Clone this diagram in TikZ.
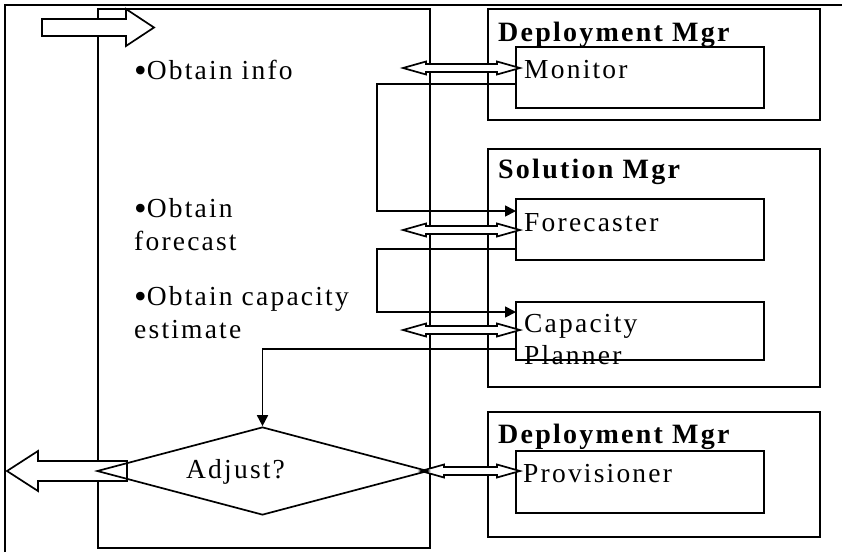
\documentclass[tikz,border=0pt]{standalone}
\usepackage{fontspec}
\setmainfont{Liberation Serif}[LetterSpace=8]
\usetikzlibrary{arrows.meta,shapes.geometric,calc}

% a larger bullet, lowered to sit on the x-height
\newcommand\bigbul{\raisebox{-3.5pt}{\fontsize{36}{33}\selectfont\addfontfeature{LetterSpace=0}•}}

\tikzset{
  ln/.style={line width=1.7pt},
  frame/.style={draw,line width=1.7pt,inner sep=0pt,outer sep=0pt,anchor=north west},
  txt/.style={inner sep=0pt,anchor=base west,align=left,font=\fontsize{27.5}{33}\selectfont},
  ttl/.style={inner sep=0pt,anchor=base west,font=\fontsize{28}{32}\selectfont\bfseries},
  conn/.style={line width=1.7pt,-{Triangle[length=11pt,width=11pt]}},
  blk/.style={draw,fill=white,line width=1.7pt,line join=miter},
  pics/dbl/.style={code={
    \draw[blk] (0,0) -- (23,-6.5) -- (23,-4) -- ({#1-23},-4) -- ({#1-23},-6.5)
      -- (#1,0) -- ({#1-23},6.5) -- ({#1-23},4) -- (23,4) -- (23,6.5) -- cycle;}},
}

\begin{document}
\begin{tikzpicture}[x=1pt,y=-1pt]
\useasboundingbox (0,0) rectangle (842,552);

% outer frame and the swimlane
\draw[ln] (5,552) -- (5,5) -- (842,5);
\node[frame,minimum width=332pt,minimum height=539pt] (lane) at (98,9) {};

% component boxes
\node[frame,minimum width=332pt,minimum height=111pt] (dm1) at (488,9) {};
\node[frame,minimum width=332pt,minimum height=238pt] (sm) at (488,149) {};
\node[frame,minimum width=332pt,minimum height=125pt] (dm2) at (488,412) {};
\node[frame,minimum width=248pt,minimum height=61pt] (mon) at (516,47) {};
\node[frame,minimum width=248pt,minimum height=61pt] (fc) at (516,199) {};
\node[frame,minimum width=248pt,minimum height=58pt] (cp) at (516,302) {};
\node[frame,minimum width=248pt,minimum height=62pt] (prov) at (516,451) {};

% control flow between the components
\draw[conn] ([yshift=-6.5pt]mon.west) -- ++(-139,0) |- ([yshift=18.5pt]fc.west);
\draw[conn] ([yshift=-19.5pt]fc.west) -- ++(-139,0) |- ([yshift=19pt]cp.west);

% entry and exit block arrows
\coordinate (entry) at (42,27.5);
\draw[blk] (entry) ++(0,-8.5) -- ++(84,0) -- ++(0,-10) -- (154,27.5) -- (126,46)
  -- ++(0,-10) -- ++(-84,0) -- cycle;
\coordinate (exit) at (7,471);
\draw[blk] (exit) -- ++(31,-20) -- ++(0,10) -- ++(89,0) -- ++(0,20) -- ++(-89,0)
  -- ++(0,10) -- cycle;

% two-way calls
\pic at ([xshift=-113pt,yshift=9.5pt]mon.west) {dbl=117};
\pic at ([xshift=-113pt,yshift=-0.5pt]fc.west) {dbl=117};
\pic at ([xshift=-113pt,yshift=1pt]cp.west) {dbl=117};
\pic at ([xshift=-95pt,yshift=11pt]prov.west) {dbl=99};

% decision
\node[draw,ln,shape=diamond,minimum width=331pt,minimum height=88pt,inner sep=0pt] (adj) at (262.5,471) {};
\draw[conn] ([yshift=-18pt]cp.west) -| (adj.north);

% labels (multi-line nodes are placed by their last baseline)
\node[txt] (t1) at (134,79) {\bigbul Obtain info};
\node[txt] (t2) at (134,250) {\bigbul Obtain\\forecast};
\node[txt] (t3) at (134,338) {\bigbul Obtain capacity\\estimate};
\node[ttl] (l1) at (498,41) {Deployment Mgr};
\node[ttl] (l2) at (498,178) {Solution Mgr};
\node[ttl] (l3) at (498,443) {Deployment Mgr};
\node[txt] (l4) at (524,78) {Monitor};
\node[txt] (l5) at (524,231) {Forecaster};
\node[txt,font=\fontsize{27.5}{32}\selectfont] (l6) at (524,364) {Capacity\\Planner};
\node[txt] (l7) at (523,482) {Provisioner};
\node[txt] (l8) at (186,478) {Adjust?};
\end{tikzpicture}
\end{document}
